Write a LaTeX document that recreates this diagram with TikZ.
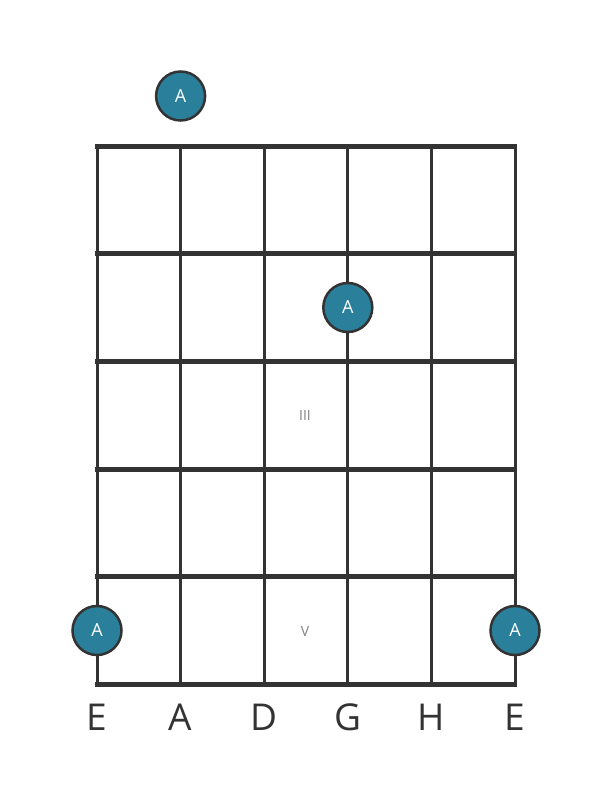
\documentclass[tikz,border=0pt]{standalone}
\usepackage{fontspec}
\setmainfont{Open Sans}
\definecolor{dotfill}{HTML}{2A7F9B}
\definecolor{linec}{HTML}{333333}
\begin{document}
\begin{tikzpicture}[x=1pt,y=-1pt,
  fretline/.style={line width=5pt,draw=linec},
  stringline/.style={line width=3pt,draw=linec},
  notedot/.style={circle,fill=dotfill,draw=linec,line width=2.5pt,minimum size=49pt,inner sep=0pt,text=white,font=\fontsize{18}{18}\selectfont},
  strlabel/.style={font=\fontsize{37}{37}\selectfont,text=linec},
  fretnum/.style={font=\fontsize{14}{14}\selectfont,text=gray}]
\useasboundingbox (0,0) rectangle (611,801);
% strings
\foreach \i/\x in {0/97,1/180.6,2/264.2,3/347.8,4/431.4,5/515}{
  \coordinate (st\i) at (\x,146);
  \coordinate (sb\i) at (\x,684.5);
  \draw[stringline] (st\i) -- (sb\i);
}
% frets
\foreach \j/\y in {0/146,1/253.7,2/361.4,3/469.1,4/576.8,5/684.5}{
  \coordinate (fl\j) at (95,\y);
  \coordinate (fr\j) at (517,\y);
  \draw[fretline] (fl\j) -- (fr\j);
}
\node[fretnum] (n3) at (305,415) {III};
\node[fretnum] (n5) at (305,631) {V};
\node[notedot] (d1) at (180.6,96) {A};
\node[notedot] (d2) at (347.8,307.5) {A};
\node[notedot] (d3) at (97,630.5) {A};
\node[notedot] (d4) at (515,630.5) {A};
\foreach \i/\x/\t in {0/97/E,1/180.6/A,2/264.2/D,3/347.8/G,4/431.4/H,5/515/E}{
  \node[strlabel,anchor=base] (l\i) at (\x,730) {\t};
}
\end{tikzpicture}
\end{document}
